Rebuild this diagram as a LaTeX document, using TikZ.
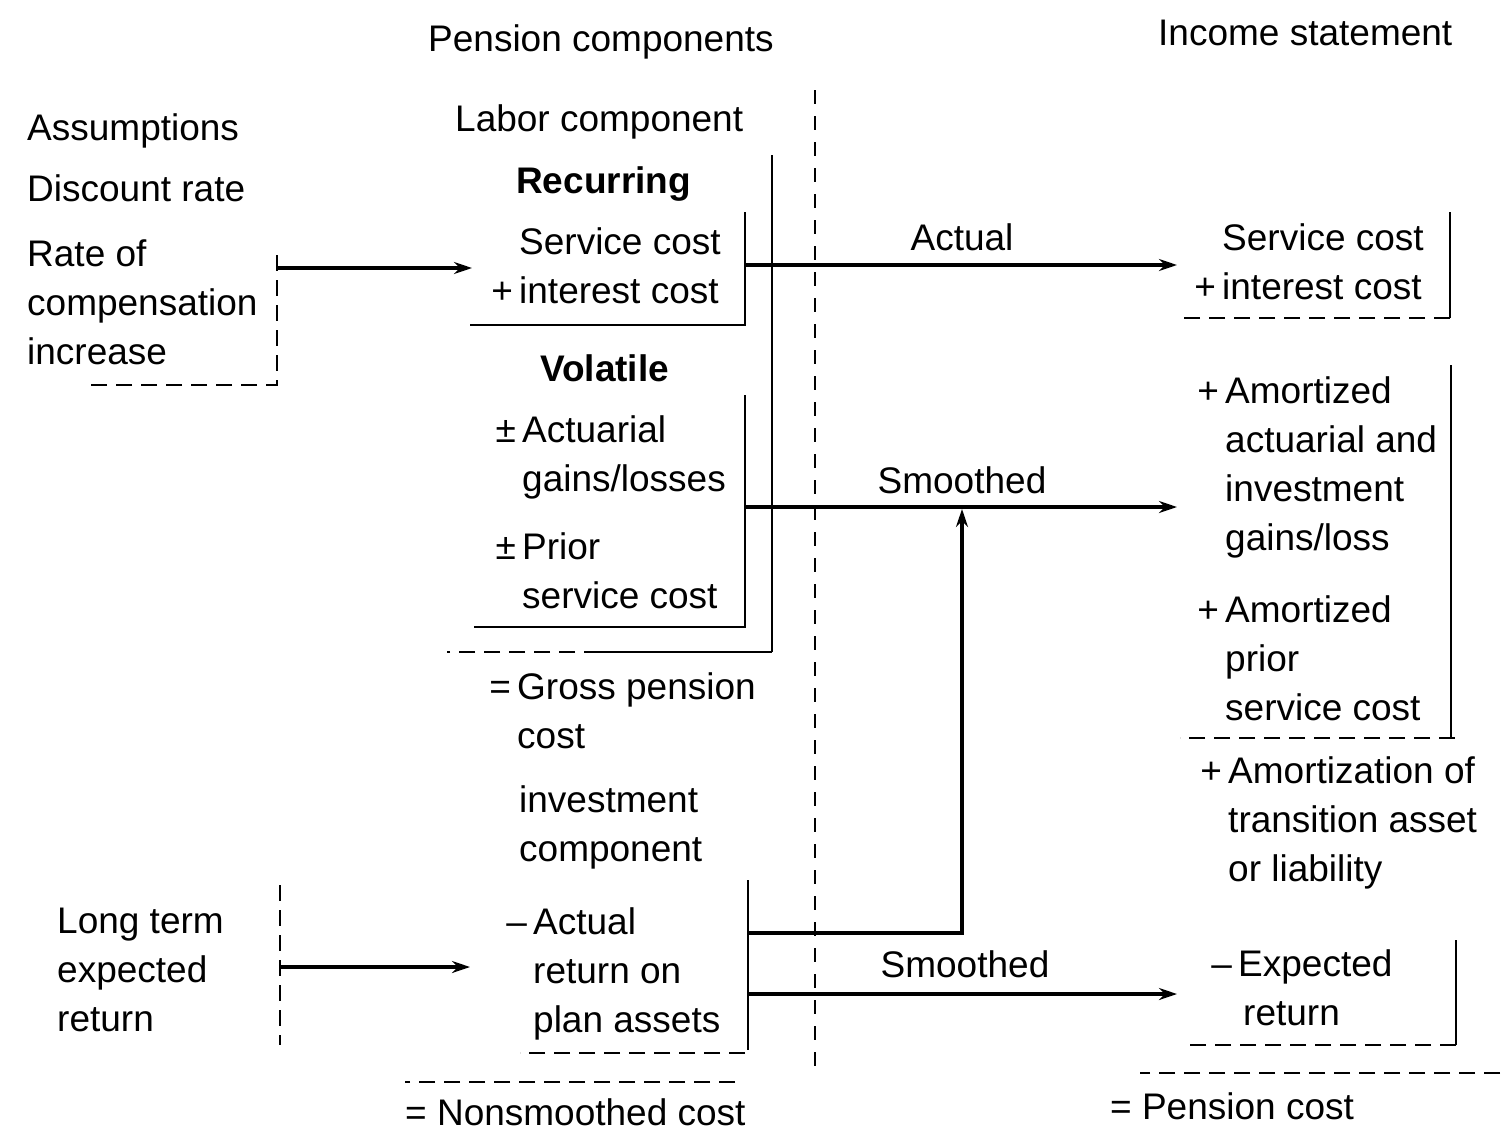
\documentclass[tikz,border=0pt]{standalone}
\usepackage{fontspec}
\setmainfont{Liberation Sans}
\usetikzlibrary{arrows.meta}
\begin{document}
\begin{tikzpicture}[x=1pt,y=-1pt,
  % multi-line labels are placed by the baseline of their last line
  lbl/.style={anchor=base west,inner sep=0pt,align=left,font=\fontsize{37}{49}\selectfont},
  hd/.style={lbl,font=\fontsize{37}{49}\selectfont\bfseries},
  mid/.style={lbl,anchor=base},
  edge/.style={line width=1.8pt},
  faint/.style={line width=1.5pt,dash pattern=on 16pt off 9pt},
  divider/.style={line width=1.4pt,dash pattern=on 14pt off 12pt},
  link/.style={line width=3.2pt},
  flow/.style={link,-{Stealth[length=18pt,width=12pt]}}]
\useasboundingbox (0,0) rectangle (1502,1133);

% column headings
\node[lbl] (hpc) at (428,51) {Pension components};
\node[lbl] (his) at (1158,45) {Income statement};

% assumptions
\node[lbl] (assum) at (27,140) {Assumptions};
\node[lbl] (disc) at (27,201) {Discount rate};
\node[lbl] (comp) at (27,364) {Rate of\\compensation\\increase};
\node[lbl] (lter) at (57,1031) {Long term\\expected\\return};

% labor component
\node[lbl] (labor) at (455,131) {Labor component};
\node[hd] (recur) at (516,193) {Recurring};
\node[lbl] (svc) at (519,303) {Service cost\\\llap{+\,}interest cost};
\node[hd] (volat) at (540,381) {Volatile};
\node[lbl] (act) at (522,491) {\llap{±\,}Actuarial\\gains/losses};
\node[lbl] (prior) at (522,608) {\llap{±\,}Prior\\service cost};
\node[lbl] (gross) at (517,748) {\llap{=\,}Gross pension\\cost};

% investment component
\node[lbl] (invc) at (519,861) {investment\\component};
\node[lbl] (ret) at (533,1032) {\llap{–\,}Actual\\return on\\plan assets};
\node[lbl] (nons) at (405,1125) {= Nonsmoothed cost};

% income statement
\node[lbl] (isvc) at (1222,299) {Service cost\\\llap{+\,}interest cost};
\node[lbl] (iamo) at (1225,550) {\llap{+\,}Amortized\\actuarial and\\investment\\gains/loss};
\node[lbl] (ipsc) at (1225,720) {\llap{+\,}Amortized\\prior\\service cost};
\node[lbl] (itra) at (1228,881) {\llap{+\,}Amortization of\\transition asset\\or liability};
\node[lbl] (iexp) at (1238,1025) {\llap{–\,}Expected\\\hspace*{5pt}return};
\node[lbl] (ipen) at (1110,1119) {= Pension cost};

% flow labels
\node[mid] (lact) at (962,250) {Actual};
\node[mid] (lsm1) at (962,493) {Smoothed};
\node[mid] (lsm2) at (965,977) {Smoothed};

% divider between components and statement
\draw[divider] (815,90) -- (815,1070);

% box edges: assumptions
\draw[faint] (277,255) -- (277,385) -- (90,385);
\draw[faint] (280,885) -- (280,1045);

% box edges: labor component
\draw[edge] (745,212) -- (745,325) -- (470,325);
\draw[edge] (745,395) -- (745,627) -- (474,627);
\draw[edge] (772,155) -- (772,652);
\draw[edge] (772,652) -- (600,652);
\draw[faint] (600,652) -- (447,652);

% box edges: investment component
\draw[edge] (748,880) -- (748,1050);
\draw[faint] (745,1053) -- (520,1053);
\draw[faint] (735,1082) -- (405,1082);

% box edges: income statement
\draw[edge] (1450,212) -- (1450,318);
\draw[faint] (1450,318) -- (1178,318);
\draw[edge] (1451,365) -- (1451,738);
\draw[faint] (1455,738) -- (1180,738);
\draw[edge] (1456,940) -- (1456,1045);
\draw[faint] (1456,1045) -- (1183,1045);
\draw[faint] (1500,1073) -- (1140,1073);

% connector end points
\coordinate (a1) at (277,268);  \coordinate (a2) at (472,268);
\coordinate (b1) at (280,967);  \coordinate (b2) at (470,967);
\coordinate (c1) at (745,265);  \coordinate (c2) at (1177,265);
\coordinate (d1) at (745,507);  \coordinate (d2) at (1177,507);
\coordinate (e1) at (748,933);  \coordinate (e2) at (962,509);
\coordinate (f1) at (748,994);  \coordinate (f2) at (1177,994);

% flows
\draw[flow] (a1) -- (a2);
\draw[flow] (b1) -- (b2);
\draw[flow] (c1) -- (c2);
\draw[flow] (d1) -- (d2);
\draw[flow] (e1) -| (e2);
\draw[flow] (f1) -- (f2);
\end{tikzpicture}
\end{document}
